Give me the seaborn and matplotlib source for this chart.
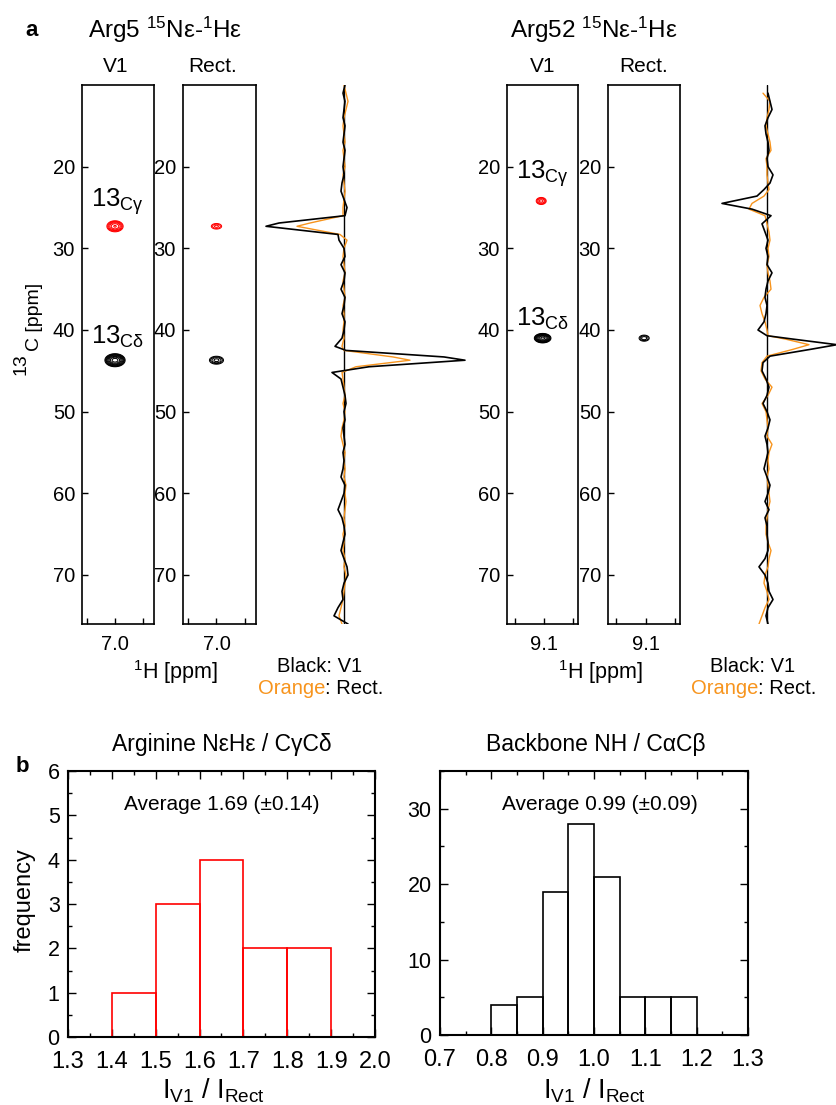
import numpy as np
import matplotlib
matplotlib.use("Agg")
import matplotlib.pyplot as plt
from matplotlib.ticker import MultipleLocator
import seaborn as sns

# ---------------------------------------------------------------- data
# 2D peaks (1H ppm, 13C ppm), order: Cgamma, Cdelta
arg5_peak_h = [7.0, 7.0]
arg5_peak_c = [27.3, 43.7]
arg5_v1_height = [8.0, 22.0]
arg5_v1_sig_h = [0.0140, 0.0143]
arg5_v1_sig_c = [0.33, 0.32]
arg5_rect_height = [2.6, 4.0]
arg5_rect_sig_h = [0.0129, 0.0146]
arg5_rect_sig_c = [0.245, 0.29]

arg52_peak_h = [9.11, 9.105]
arg52_peak_c = [24.2, 41.0]
arg52_v1_height = [4.0, 20.0]
arg52_v1_sig_h = [0.0104, 0.0118]
arg52_v1_sig_c = [0.257, 0.235]
arg52_rect_height = [0.0, 3.0]
arg52_rect_sig_h = [0.0104, 0.0117]
arg52_rect_sig_c = [0.25, 0.25]

peak_colors = ["red", "black"]

# 1D 13C traces through the peaks (intensity, arbitrary units)
arg5_trace_ppm = [10, 11, 12, 13, 14, 15, 16, 17, 18, 19, 20, 21, 22, 23, 24, 25,
                  26.0, 26.9, 27.3, 28.3,
                  29, 30, 31, 32, 33, 34, 35, 36, 37, 38, 39, 40, 41,
                  42.0, 42.5, 43.3, 43.7, 44.5, 45.2,
                  46, 47, 48, 49, 50, 51, 52, 53, 54, 55, 56, 57, 58, 59, 60, 61,
                  62, 63, 64, 65, 66, 67, 68, 69, 70, 71, 72, 73, 74, 75, 76]
arg5_v1_trace = [1, -1, 1, 0, -1, 1, 0, -1, 1, 0, -1, 0, -2, -3, 0, 3,
                 1, -65, -78, -6,
                 -5, 0, 1, -3, 1, 0, -3, 1, 0, -2, 1, 0, -2,
                 -9, 2, 100, 121, 25, -12,
                 -3, -1, 1, 2, 0, 1, -1, 0, 1, -1, 0, -1, -3, 1, 0, -3,
                 -6, -2, 0, 1, -1, -3, 0, 3, 4, 0, -2, -1, -6, -10, 4]
arg5_rect_trace = [0, 2, 4, 2, 0, -1, 0, 1, -1, 0, 1, -1, 0, 1, 0, -1,
                   -1, -34, -47, -4,
                   3, 0, -1, 0, 1, -1, 0, 1, -1, 0, 0, -1, 0,
                   -2, 0, 49, 66, 12, -2,
                   -1, 0, 1, -1, 1, 0, -2, -3, -1, 1, 0, 1, 0, 2, 1, 2,
                   1, 0, 1, -1, 0, -1, 1, 0, 2, 1, 0, -1, -3, -5, -2]

arg52_trace_ppm = [11, 12, 13, 14, 15, 16, 17, 18, 19, 20, 21, 22,
                   22.8, 23.6, 24.5, 25.2,
                   26, 27, 28, 29, 30, 31, 32, 33, 34, 35, 36, 37, 38, 39, 40,
                   40.7, 41.1, 41.8, 42.4, 43.2,
                   44, 45, 46, 47, 48, 49, 50, 51, 52, 53, 54, 55, 56, 57, 58, 59,
                   60, 61, 62, 63, 64, 65, 66, 67, 68, 69, 70, 71, 72, 73, 74, 75, 76]
arg52_v1_trace = [1, 3, 5, 1, -2, -1, 1, 2, 0, 1, 6, 3,
                  -3, -10, -45, -15,
                  4, -5, -2, 1, -1, 1, 0, 5, 1, -1, -2, 0, -1, -3, -9,
                  0, 25, 70, 42, 3,
                  -4, -5, -1, 2, 0, -4, 0, 3, 1, -2, 0, 1, -1, -3, 0, 3,
                  1, -2, 2, -2, 0, 0, 1, 1, -2, -8, -2, 1, 2, 6, 1, -1, 1]
arg52_rect_trace = [-4, 3, 2, 0, -1, 1, 3, 4, -1, 0, 0, 1,
                    2, -3, -15, -18,
                    -2, 0, 2, 3, 1, 2, 0, 1, 3, 4, -3, -7, -5, -2, 0,
                    1, 18, 42, 25, 0,
                    -5, -6, -2, 5, 1, -5, -1, 0, 1, 0, 5, 2, 1, 2, 0, 1,
                    2, 3, 1, 0, -1, -1, 1, 4, 2, 1, -2, -3, 0, 2, -2, -5, -8]

# histograms of I_V1 / I_Rect
arg_bin_edges = [1.4, 1.5, 1.6, 1.7, 1.8, 1.9]
arg_counts = [1, 3, 4, 2, 2]
bb_bin_edges = [0.80, 0.85, 0.90, 0.95, 1.00, 1.05, 1.10, 1.15, 1.20]
bb_counts = [4, 5, 19, 28, 21, 5, 5, 5]

# ---------------------------------------------------------------- style
sns.set_theme(style="white")
plt.rcParams['font.family'] = ['Liberation Sans', 'DejaVu Sans']
plt.rcParams['mathtext.fontset'] = 'custom'
plt.rcParams['mathtext.rm'] = 'Liberation Sans'
plt.rcParams['mathtext.it'] = 'Liberation Sans:italic'
plt.rcParams['mathtext.bf'] = 'Liberation Sans:bold'
plt.rcParams['axes.edgecolor'] = 'black'
plt.rcParams['text.color'] = 'black'
plt.rcParams['xtick.color'] = 'black'
plt.rcParams['ytick.color'] = 'black'

ORANGE = "#F7941D"
C_LIM = (76, 10)
LEVELS = 1.5 ** np.arange(0, 12)

W, H = 837, 1105
fig = plt.figure(figsize=(W / 100, H / 100), dpi=100)


def px_axes(x0, y0, x1, y1):
    return fig.add_axes([x0 / W, 1 - y1 / H, (x1 - x0) / W, (y1 - y0) / H])


def ftext(x, y, s, **kw):
    fig.text(x / W, 1 - y / H, s, **kw)


def draw_spectrum(ax, h_lim, h_tick, ph, pc, height, sig_h, sig_c):
    h = np.linspace(h_lim[1], h_lim[0], 400)
    c = np.linspace(C_LIM[1], C_LIM[0], 1200)
    hh, cc = np.meshgrid(h, c)
    for i in range(len(ph)):
        lev = LEVELS[LEVELS < height[i]]
        if len(lev) == 0:
            continue
        z = height[i] * np.exp(-0.5 * ((hh - ph[i]) / sig_h[i]) ** 2
                               - 0.5 * ((cc - pc[i]) / sig_c[i]) ** 2)
        ax.contour(hh, cc, z, levels=lev, colors=peak_colors[i], linewidths=0.75)
    ax.set_xlim(h_lim)
    ax.set_ylim(C_LIM)
    ax.set_xticks([h_tick + 0.1, h_tick, h_tick - 0.1])
    ax.set_xticklabels(['', f'{h_tick:.1f}', ''])
    ax.set_yticks([20, 30, 40, 50, 60, 70])
    ax.tick_params(direction='in', length=4, width=1, labelsize=14.5,
                   top=False, right=False, bottom=True, left=True)
    ax.tick_params(axis='x', pad=8)
    ax.tick_params(axis='y', pad=5)
    for sp in ax.spines.values():
        sp.set_linewidth(1.2)
        sp.set_color('black')


def draw_trace(ax, ppm, black, orange, xlim):
    ax.axvline(0, color='black', lw=1.0)
    sns.lineplot(x=orange, y=ppm, orient='y', estimator=None, color=ORANGE,
                 lw=1.0, ax=ax)
    sns.lineplot(x=black, y=ppm, orient='y', estimator=None, color='black',
                 lw=1.2, ax=ax)
    ax.set_xlim(xlim)
    ax.set_ylim(C_LIM)
    ax.axis('off')


# ---------------------------------------------------------------- panel a
ax_a5v = px_axes(82, 85, 154, 624)
draw_spectrum(ax_a5v, (7.116, 6.863), 7.0, arg5_peak_h, arg5_peak_c,
              arg5_v1_height, arg5_v1_sig_h, arg5_v1_sig_c)
ax_a5r = px_axes(183, 85, 256, 624)
draw_spectrum(ax_a5r, (7.116, 6.863), 7.0, arg5_peak_h, arg5_peak_c,
              arg5_rect_height, arg5_rect_sig_h, arg5_rect_sig_c)
ax_a5t = px_axes(260, 85, 470, 624)
draw_trace(ax_a5t, arg5_trace_ppm, arg5_v1_trace, arg5_rect_trace, (-84, 126))

ax_a52v = px_axes(507, 85, 578, 624)
draw_spectrum(ax_a52v, (9.229, 8.982), 9.1, arg52_peak_h, arg52_peak_c,
              arg52_v1_height, arg52_v1_sig_h, arg52_v1_sig_c)
ax_a52r = px_axes(608, 85, 680, 624)
draw_spectrum(ax_a52r, (9.229, 8.982), 9.1, arg52_peak_h, arg52_peak_c,
              arg52_rect_height, arg52_rect_sig_h, arg52_rect_sig_c)
ax_a52t = px_axes(700, 85, 837, 624)
draw_trace(ax_a52t, arg52_trace_ppm, arg52_v1_trace, arg52_rect_trace, (-67, 70))

# peak labels
lab_kw = dict(fontsize=18.5, ha='center', va='center')
ax_a5v.text(6.99, 24.3, "13$_{\\rm Cγ}$", **lab_kw)
ax_a5v.text(6.99, 40.8, "13$_{\\rm Cδ}$", **lab_kw)
ax_a52v.text(9.105, 20.9, "13$_{\\rm Cγ}$", **lab_kw)
ax_a52v.text(9.105, 38.7, "13$_{\\rm Cδ}$", **lab_kw)

ftext(32, 31, "a", fontsize=16, fontweight='bold', ha='center', va='center')
ftext(88, 30, r"Arg5 $^{15}$Nε-$^{1}$Hε", fontsize=17.5, ha='left', va='center')
ftext(510, 30, r"Arg52 $^{15}$Nε-$^{1}$Hε", fontsize=17.5, ha='left', va='center')
for x, s in [(116, "V1"), (213, "Rect."), (543, "V1"), (644, "Rect.")]:
    ftext(x, 66, s, fontsize=15, ha='center', va='center')

# 13C axis label: "13" raised, "C [ppm]" lowered
ftext(21, 364, "13", fontsize=14, rotation=90, ha='center', va='center')
ftext(35, 317, "C [ppm]", fontsize=14, rotation=90, ha='center', va='center')
ftext(175, 672, r"$^{1}$H [ppm]", fontsize=15.5, ha='center', va='center')
ftext(600, 672, r"$^{1}$H [ppm]", fontsize=15.5, ha='center', va='center')

for xc, xs in [(320, 325), (753, 758)]:
    ftext(xc, 666, "Black: V1", fontsize=14.5, ha='center', va='center')
    ftext(xs, 688, "Orange", fontsize=14.5, ha='right', va='center', color=ORANGE)
    ftext(xs, 688, ": Rect.", fontsize=14.5, ha='left', va='center')


# ---------------------------------------------------------------- panel b
def draw_hist(ax, edges, counts, color, xlim, ylim, ymaj, ymin):
    centers = [(edges[i] + edges[i + 1]) / 2 for i in range(len(counts))]
    sns.histplot(x=centers, weights=counts, bins=edges, fill=False,
                 color=color, linewidth=1.2, ax=ax)
    ax.set_xlim(xlim)
    ax.set_ylim(ylim)
    ax.set_ylabel("")
    ax.set_xlabel("")
    ax.xaxis.set_major_locator(MultipleLocator(0.1))
    ax.xaxis.set_minor_locator(MultipleLocator(0.05))
    ax.yaxis.set_major_locator(MultipleLocator(ymaj))
    ax.yaxis.set_minor_locator(MultipleLocator(ymin))
    ax.xaxis.set_major_formatter('{x:.1f}')
    ax.tick_params(which='both', direction='in', top=True, right=True,
                   bottom=True, left=True)
    ax.tick_params(axis='x', labelsize=17, pad=10)
    ax.tick_params(axis='y', labelsize=15.5, pad=6)
    ax.tick_params(which='major', length=6, width=1)
    ax.tick_params(which='minor', length=3, width=1)
    for sp in ax.spines.values():
        sp.set_linewidth(1.5)
        sp.set_color('black')


ax_b1 = px_axes(68, 771, 375, 1037)
draw_hist(ax_b1, arg_bin_edges, arg_counts, 'red', (1.3, 2.0), (0, 6), 1, 0.5)
ax_b2 = px_axes(440, 771, 748, 1035)
draw_hist(ax_b2, bb_bin_edges, bb_counts, 'black', (0.7, 1.3), (0, 35), 10, 5)

ftext(22, 766, "b", fontsize=16, fontweight='bold', ha='center', va='center')
ftext(222, 745, "Arginine NεHε / CγCδ", fontsize=16.5, ha='center', va='center')
ftext(596, 745, "Backbone NH / CαCβ", fontsize=16.5, ha='center', va='center')
ftext(222, 805, "Average 1.69 (±0.14)", fontsize=15, ha='center', va='center')
ftext(600, 805, "Average 0.99 (±0.09)", fontsize=15, ha='center', va='center')
ftext(25, 900, "frequency", fontsize=17, rotation=90, ha='center', va='center')
ftext(213, 1091, r"I$_{\rm V1}$ / I$_{\rm Rect}$", fontsize=19.5, ha='center', va='center')
ftext(594, 1091, r"I$_{\rm V1}$ / I$_{\rm Rect}$", fontsize=19.5, ha='center', va='center')

fig.savefig("out.png", dpi=100)
